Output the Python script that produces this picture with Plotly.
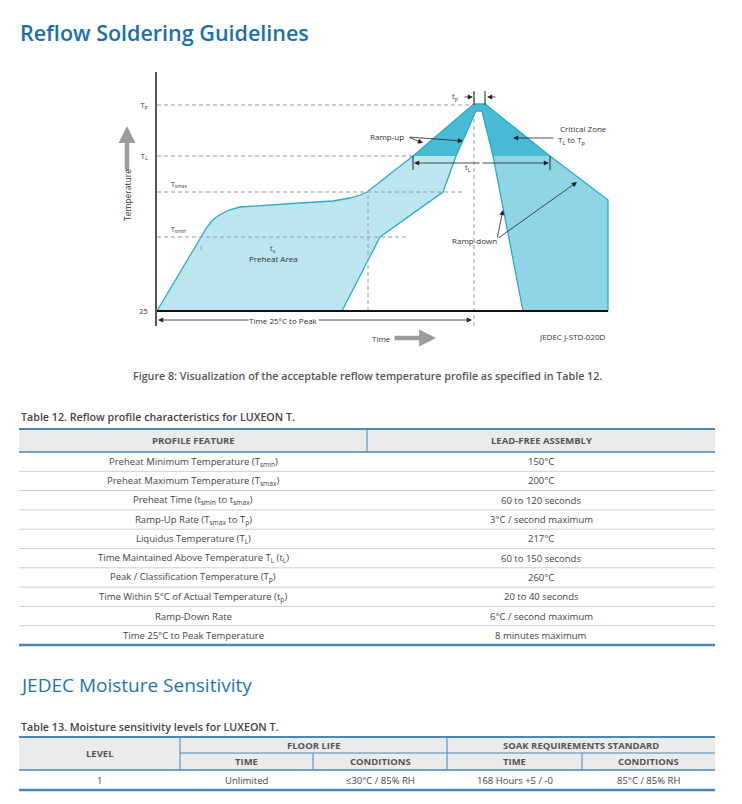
import plotly.graph_objects as go

W, H = 742, 804
FONT = "Open Sans"
BLUE_T = "#1b6fae"
BORDER = "#4a87b5"
GRAYLINE = "#cfcfcf"
HDRFILL = "#ebebeb"

# ---------------- diagram data (schematic time units / temperature levels) ----------------
tick_levels = [0, 155, 206]
tick_text = ["25", "T<sub>L</sub>", "T<sub>p</sub>"]
level_tsmin, level_tsmax, level_tl, level_tp = 74, 119, 155, 206

preheat_t = [0, 50, 54, 58, 64, 72, 83, 110, 143, 176, 193, 203, 210, 256, 299, 286, 223, 185]
preheat_T = [0, 84, 89, 93, 97, 101, 104, 106, 108, 110, 113, 116, 119, 155, 155, 119, 74, 0]

critical_t = [256, 317, 328, 393, 336, 325, 319, 299]
critical_T = [155, 207, 207, 155, 155, 200, 200, 155]

rampdown_t = [336, 393, 451, 451, 366]
rampdown_T = [155, 155, 111, 0, 0]

outer_t = [0, 50, 54, 58, 64, 72, 83, 110, 143, 176, 193, 203, 210, 256, 317, 328, 393, 451, 451]
outer_T = [0, 84, 89, 93, 97, 101, 104, 106, 108, 110, 113, 116, 119, 155, 207, 207, 155, 111, 0]
inner_t = [185, 223, 286, 299, 319, 325, 336, 366]
inner_T = [0, 74, 119, 155, 200, 200, 155, 0]

# dashed reference lines: (t0, t1, level)
ref_h = [(0, 317, level_tp), (0, 256, level_tl), (0, 308, level_tsmax), (0, 251, level_tsmin)]
# vertical dashed: (t, T0, T1)
ref_v = [(317, -15, 219), (211, 0, 119), (44, 61, 67)]

# ---------------- table data ----------------
def sub(s):
    return "<sub>" + s + "</sub>"

t12_title = "Table 12. Reflow profile characteristics for LUXEON T."
t12_headers = ["PROFILE FEATURE", "LEAD-FREE ASSEMBLY"]
t12_features = [
    "Preheat Minimum Temperature (T" + sub("smin") + ")",
    "Preheat Maximum Temperature (T" + sub("smax") + ")",
    "Preheat Time (t" + sub("smin") + " to t" + sub("smax") + ")",
    "Ramp-Up Rate (T" + sub("smax") + " to T" + sub("p") + ")",
    "Liquidus Temperature (T" + sub("L") + ")",
    "Time Maintained Above Temperature T" + sub("L") + " (t" + sub("L") + ")",
    "Peak / Classification Temperature (T" + sub("p") + ")",
    "Time Within 5°C of Actual Temperature (t" + sub("p") + ")",
    "Ramp-Down Rate",
    "Time 25°C to Peak Temperature",
]
t12_values = [
    "150°C", "200°C", "60 to 120 seconds", "3°C / second maximum", "217°C",
    "60 to 150 seconds", "260°C", "20 to 40 seconds", "6°C / second maximum", "8 minutes maximum",
]

t13_title = "Table 13. Moisture sensitivity levels for LUXEON T."
t13_group_headers = ["FLOOR LIFE", "SOAK REQUIREMENTS STANDARD"]
t13_sub_headers = ["TIME", "CONDITIONS", "TIME", "CONDITIONS"]
t13_level_header = "LEVEL"
t13_row = ["1", "Unlimited", "≤30°C / 85% RH", "168 Hours +5 / -0", "85°C / 85% RH"]

fig = go.Figure()

# ---------------- diagram traces ----------------
def poly(t, T, color):
    fig.add_trace(go.Scatter(x=t + [t[0]], y=T + [T[0]], xaxis="x2", yaxis="y2", mode="lines",
                             fill="toself", fillcolor=color, line=dict(width=0), hoverinfo="skip",
                             showlegend=False))

poly(preheat_t, preheat_T, "#bbe5ef")
poly(rampdown_t, rampdown_T, "#8fd5e6")
poly(critical_t, critical_T, "#47bbd6")

for t, T in [(outer_t, outer_T), (inner_t, inner_T)]:
    fig.add_trace(go.Scatter(x=t, y=T, xaxis="x2", yaxis="y2", mode="lines",
                             line=dict(color="#2aabc5", width=1.3), hoverinfo="skip", showlegend=False))

for t0, t1, lv in ref_h:
    fig.add_trace(go.Scatter(x=[t0, t1], y=[lv, lv], xaxis="x2", yaxis="y2", mode="lines",
                             line=dict(color="#9a9a9a", width=1, dash="4px,3px"),
                             hoverinfo="skip", showlegend=False))
for t, T0, T1 in ref_v:
    fig.add_trace(go.Scatter(x=[t, t], y=[T0, T1], xaxis="x2", yaxis="y2", mode="lines",
                             line=dict(color="#9a9a9a", width=1, dash="4px,3px"),
                             hoverinfo="skip", showlegend=False))

# baseline
fig.add_trace(go.Scatter(x=[0, 451], y=[0, 0], xaxis="x2", yaxis="y2", mode="lines",
                         line=dict(color="#111111", width=2), hoverinfo="skip", showlegend=False))
# tp markers
for t in [317, 328]:
    fig.add_trace(go.Scatter(x=[t, t], y=[206, 220], xaxis="x2", yaxis="y2", mode="lines",
                             line=dict(color="#222222", width=1), hoverinfo="skip", showlegend=False))
# tL markers
for t in [256, 393]:
    fig.add_trace(go.Scatter(x=[t, t], y=[155, 141], xaxis="x2", yaxis="y2", mode="lines",
                             line=dict(color="#222222", width=1), hoverinfo="skip", showlegend=False))

ann = []

def dtext(x, y, text, size=8, xanchor="center", angle=0, bg=None, color="#333333"):
    d = dict(x=x, y=y, xref="x2", yref="y2", text=text, showarrow=False, xanchor=xanchor,
             yanchor="middle", textangle=angle, font=dict(family=FONT, size=size, color=color))
    if bg:
        d["bgcolor"] = bg
        d["borderpad"] = 0
    ann.append(d)

def darrow(x0, y0, x1, y1, width=0.8, size=1.3, color="#222222", ref=("x2", "y2")):
    ann.append(dict(x=x1, y=y1, ax=x0, ay=y0, xref=ref[0], yref=ref[1], axref=ref[0], ayref=ref[1],
                    text="", showarrow=True, arrowhead=2, arrowwidth=width, arrowsize=size,
                    arrowcolor=color, standoff=0, startstandoff=0))

dtext(12, 127, "T<sub>smax</sub>", 7, "left")
dtext(12, 82, "T<sub>smin</sub>", 7, "left")
dtext(116, 62, "t<sub>s</sub>", 7.5)
dtext(116, 53, "Preheat Area", 8)
dtext(230, 175, "Ramp-up", 8)
darrow(251, 174, 266, 168)
darrow(251, 174, 306, 170)
dtext(401, 183, "Critical Zone", 8, "left")
dtext(399, 171, "T<sub>L</sub> to T<sub>p</sub>", 8, "left")
darrow(398, 173, 356, 173)
darrow(324, 148, 257, 148)
darrow(324, 148, 392, 148)
dtext(311, 143, "t<sub>L</sub>", 7.5)
dtext(298, 214, "t<sub>p</sub>", 7.5)
darrow(306, 214, 316, 214)
darrow(340, 214, 330, 214)
dtext(317, 71, "Ramp-down", 8)
darrow(340, 72, 346, 101)
darrow(340, 72, 420, 129)
darrow(160, -9, 1, -9)
darrow(160, -9, 315, -9)
dtext(126, -9, "Time 25°C to Peak", 8, bg="white")

# items below the diagram's axis range (page coordinates)
darrow(127, 172, 127, 126, width=4.5, size=0.75, color="#9c9c9c", ref=("x", "y"))
darrow(393, 338, 436, 338, width=4.5, size=0.75, color="#9c9c9c", ref=("x", "y"))
ann.append(dict(x=127, y=195, xref="x", yref="y", text="Temperature", showarrow=False, textangle=-90,
                font=dict(family=FONT, size=8.5, color="#333333")))
ann.append(dict(x=381, y=338, xref="x", yref="y", text="Time", showarrow=False,
                font=dict(family=FONT, size=8, color="#333333")))
ann.append(dict(x=608, y=336, xref="x", yref="y", text="JEDEC J-STD-020D", showarrow=False,
                xanchor="right", font=dict(family=FONT, size=8, color="#333333")))

# ---------------- page texts ----------------
def ptext(x, y, text, size, color, weight=400, xanchor="center"):
    ann.append(dict(x=x, y=y, xref="x", yref="y", text=text, showarrow=False, xanchor=xanchor,
                    yanchor="middle", font=dict(family=FONT, size=size, color=color, weight=weight)))

ptext(18, 32, "Reflow Soldering Guidelines", 21.5, BLUE_T, 600, "left")
ptext(367, 376, "Figure 8: Visualization of the acceptable reflow temperature profile as specified in Table 12.",
      10.7, "#555555", 600)
ptext(19, 417, t12_title, 10.7, "#444444", 600, "left")
ptext(18, 685, "JEDEC Moisture Sensitivity", 19, "#1d75b3", 400, "left")
ptext(19, 727, t13_title, 10.7, "#444444", 600, "left")

shapes = []

def hline(x0, x1, y, color, width):
    shapes.append(dict(type="line", xref="x", yref="y", x0=x0, x1=x1, y0=y, y1=y,
                       line=dict(color=color, width=width)))

def vline(x, y0, y1, color, width):
    shapes.append(dict(type="line", xref="x", yref="y", x0=x, x1=x, y0=y0, y1=y1,
                       line=dict(color=color, width=width)))

def rect(x0, x1, y0, y1, color):
    shapes.append(dict(type="rect", xref="x", yref="y", x0=x0, x1=x1, y0=y0, y1=y1,
                       fillcolor=color, line=dict(width=0), layer="below"))

# Table 12
c12 = [19, 367, 715]
top12, hb12 = 429, 452
rh12 = 19.3
rect(c12[0], c12[2], top12, hb12, HDRFILL)
for i, h in enumerate(t12_headers):
    ptext((c12[i] + c12[i + 1]) / 2, (top12 + hb12) / 2, h, 9.5, "#555555", 700)
for r, (f, v) in enumerate(zip(t12_features, t12_values)):
    yc = hb12 + rh12 * (r + 0.5)
    ptext((c12[0] + c12[1]) / 2, yc, f, 9.5, "#444444")
    ptext((c12[1] + c12[2]) / 2, yc, v, 9.5, "#444444")
    if r < len(t12_features) - 1:
        hline(c12[0], c12[2], hb12 + rh12 * (r + 1), GRAYLINE, 1)
bot12 = hb12 + rh12 * len(t12_features)
hline(c12[0], c12[2], top12, BORDER, 2)
hline(c12[0], c12[2], hb12, BORDER, 1.5)
vline(c12[1], top12, hb12, BORDER, 1)
hline(c12[0], c12[2], bot12, BORDER, 2.5)

# Table 13
c13 = [19, 180, 313, 447, 582, 715]
top13, mid13, hb13, bot13 = 737, 753, 770, 790
rect(c13[0], c13[5], top13, hb13, HDRFILL)
ptext((c13[0] + c13[1]) / 2, (top13 + hb13) / 2, t13_level_header, 9.5, "#555555", 700)
ptext((c13[1] + c13[3]) / 2, (top13 + mid13) / 2, t13_group_headers[0], 9.5, "#555555", 700)
ptext((c13[3] + c13[5]) / 2, (top13 + mid13) / 2, t13_group_headers[1], 9.5, "#555555", 700)
for i, h in enumerate(t13_sub_headers):
    ptext((c13[i + 1] + c13[i + 2]) / 2, (mid13 + hb13) / 2, h, 9.5, "#555555", 700)
for i, v in enumerate(t13_row):
    ptext((c13[i] + c13[i + 1]) / 2, (hb13 + bot13) / 2, v, 9.5, "#444444")
hline(c13[0], c13[5], top13, BORDER, 2)
hline(c13[1], c13[5], mid13, BORDER, 1)
hline(c13[0], c13[5], hb13, BORDER, 1.5)
hline(c13[0], c13[5], bot13, BORDER, 2.5)
vline(c13[1], top13, hb13, BORDER, 1)
vline(c13[3], top13, hb13, BORDER, 1)
vline(c13[2], mid13, hb13, BORDER, 1)
vline(c13[4], mid13, hb13, BORDER, 1)

fig.update_layout(
    width=W, height=H, margin=dict(l=0, r=0, t=0, b=0),
    paper_bgcolor="white", plot_bgcolor="rgba(0,0,0,0)", showlegend=False,
    xaxis=dict(domain=[0, 1], range=[0, W], visible=False, fixedrange=True),
    yaxis=dict(domain=[0, 1], range=[H, 0], visible=False, fixedrange=True),
    xaxis2=dict(domain=[157 / W, 612 / W], range=[0, 455], visible=False, anchor="y2", fixedrange=True),
    yaxis2=dict(domain=[1 - 326 / H, 1 - 72 / H], range=[-15, 239], anchor="x2", fixedrange=True,
                showline=True, linecolor="#555555", linewidth=1.5, showgrid=False, zeroline=False,
                tickvals=tick_levels, ticktext=tick_text, ticks="", ticklabelstandoff=6,
                tickfont=dict(family=FONT, size=7.5, color="#333333")),
    annotations=ann, shapes=shapes,
)

fig.write_html("out.html", config={"displayModeBar": False},
               post_script="document.body.style.margin='0';document.body.style.padding='0';")
